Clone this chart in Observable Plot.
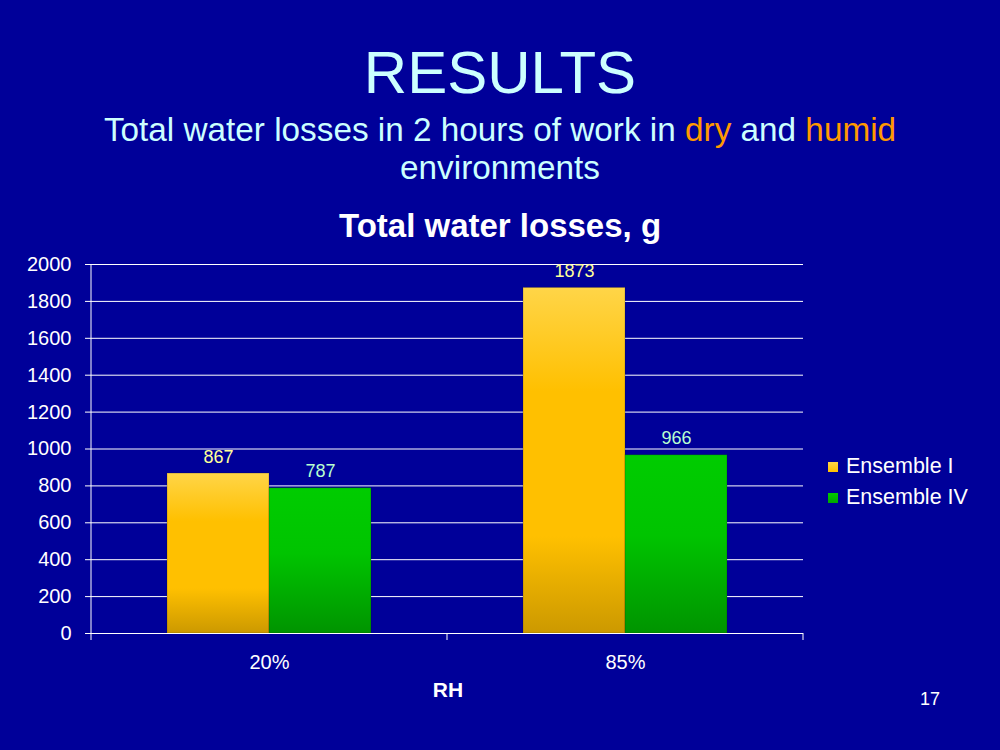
<!DOCTYPE html>
<html>
<head>
<meta charset="utf-8">
<script src="https://cdn.jsdelivr.net/npm/d3@7"></script>
<script src="https://cdn.jsdelivr.net/npm/@observablehq/plot@0.6"></script>
<style>
  html, body { margin: 0; padding: 0; }
  body { background: #000099; width: 1000px; height: 750px; position: relative; overflow: hidden;
         font-family: "Liberation Sans", Arial, Helvetica, sans-serif; }
  .abs { position: absolute; left: 0; width: 1000px; text-align: center; white-space: nowrap; }
  #title { top: 43px; font-size: 60px; line-height: 60px; color: #CCFFFF; }
  #subtitle { top: 111px; font-size: 33.3px; line-height: 38px; color: #CCFFFF; }
  #subtitle .hl { color: #FF9900; }
  #ctitle { top: 209px; font-size: 33px; line-height: 33px; color: #FFFFFF; font-weight: bold; }
  #xlabel { top: 679px; left: 398px; width: 100px; font-size: 21px; line-height: 21px; color: #FFFFFF; font-weight: bold; }
  #page { top: 690px; left: 900px; width: 60px; font-size: 18px; line-height: 18px; color: #FFFFFF; }
  #legend { position: absolute; left: 828px; top: 451px; color: #FFFFFF; font-size: 21.5px; }
  #legend .item { display: flex; align-items: center; height: 31px; }
  #legend .sw { width: 10px; height: 10px; margin-right: 8px; box-sizing: border-box; }
  #chart { position: absolute; left: 0; top: 0; }
</style>
</head>
<body>
<div id="title" class="abs">RESULTS</div>
<div id="subtitle" class="abs">Total water losses in 2 hours of work in <span class="hl">dry</span> and <span class="hl">humid</span><br>environments</div>
<div id="ctitle" class="abs">Total water losses, g</div>
<div id="chart"></div>
<div id="xlabel" class="abs">RH</div>
<div id="legend"></div>
<div id="page" class="abs">17</div>
<script>
// ---- data ----
const categories = ["20%", "85%"];
const seriesNames = ["Ensemble I", "Ensemble IV"];
const ensembleI = [867, 1873];
const ensembleIV = [787, 966];
const yTicks = [0, 200, 400, 600, 800, 1000, 1200, 1400, 1600, 1800, 2000];
const pageNumber = "17";

// ---- styles ----
const seriesFill = ["url(#gradI)", "url(#gradIV)"];
const seriesSwatch = ["linear-gradient(#FFD54A, #FFC000)", "linear-gradient(#00CC00, #00A800)"];
const labelColor = ["#FFFF99", "#B8FFD0"];

const data = [];
categories.forEach((c, i) => {
  data.push({rh: c, series: seriesNames[0], value: ensembleI[i]});
  data.push({rh: c, series: seriesNames[1], value: ensembleIV[i]});
});

const chart = Plot.plot({
  width: 1000,
  height: 750,
  marginTop: 264,
  marginBottom: 117,
  marginLeft: 91,
  marginRight: 197,
  style: {background: "transparent", color: "white", fontFamily: "'Liberation Sans', Arial, sans-serif", overflow: "visible"},
  fx: {domain: categories, padding: 0},
  x: {domain: seriesNames, paddingInner: 0, paddingOuter: 0.745, axis: null},
  y: {domain: [0, 2000]},
  color: {domain: seriesNames, range: seriesFill},
  marks: [
    Plot.gridY(yTicks, {stroke: "white", strokeOpacity: 1, strokeWidth: 1}),
    Plot.barY(data, {fx: "rh", x: "series", y: "value", fill: "series", stroke: "#000000", strokeOpacity: 0.18, strokeWidth: 1}),
    ...seriesNames.map((s, i) => Plot.text(data.filter(d => d.series === s), {
      fx: "rh", x: "series", y: "value", text: d => String(d.value),
      lineAnchor: "bottom", dy: -11, fill: labelColor[i], fontSize: 18
    })),
    Plot.ruleY([0], {stroke: "white", strokeWidth: 1}),
    Plot.axisY({ticks: yTicks, tickSize: 6, tickPadding: 14, fontSize: 20, tickFormat: d => String(d), label: null}),
    Plot.axisFx({anchor: "bottom", tickSize: 0, tickPadding: 21, fontSize: 20, label: null})
  ]
});

// gradients
const defs = d3.select(chart).insert("defs", ":first-child");
const g1 = defs.append("linearGradient").attr("id", "gradI").attr("x1", 0).attr("x2", 0).attr("y1", 0).attr("y2", 1);
[["0%", "#FFD548"], ["30%", "#FFC000"], ["72%", "#FFC000"], ["100%", "#CC9900"]].forEach(([o, c]) =>
  g1.append("stop").attr("offset", o).attr("stop-color", c));
const g2 = defs.append("linearGradient").attr("id", "gradIV").attr("x1", 0).attr("x2", 0).attr("y1", 0).attr("y2", 1);
[["0%", "#00CC00"], ["45%", "#00C400"], ["100%", "#009400"]].forEach(([o, c]) =>
  g2.append("stop").attr("offset", o).attr("stop-color", c));

// category-axis line and boundary ticks, placed with the chart's own scales
const fx = chart.scale("fx");
const y = chart.scale("y");
const y0 = y.apply(0), yTop = y.apply(2000);
const bw = fx.bandwidth;
const edges = categories.map(c => fx.apply(c)).concat([fx.apply(categories[categories.length - 1]) + bw]);
const gl = d3.select(chart).append("g").attr("stroke", "white").attr("stroke-width", 1);
gl.append("line").attr("x1", edges[0]).attr("x2", edges[0]).attr("y1", yTop).attr("y2", y0 + 7);
edges.slice(1).forEach(e => gl.append("line").attr("x1", e).attr("x2", e).attr("y1", y0).attr("y2", y0 + 7));

document.getElementById("chart").appendChild(chart);

// legend
const leg = d3.select("#legend");
seriesNames.forEach((s, i) => {
  const it = leg.append("div").attr("class", "item");
  it.append("div").attr("class", "sw").style("background", seriesSwatch[i]);
  it.append("span").text(s);
});
document.getElementById("page").textContent = pageNumber;
</script>
</body>
</html>
